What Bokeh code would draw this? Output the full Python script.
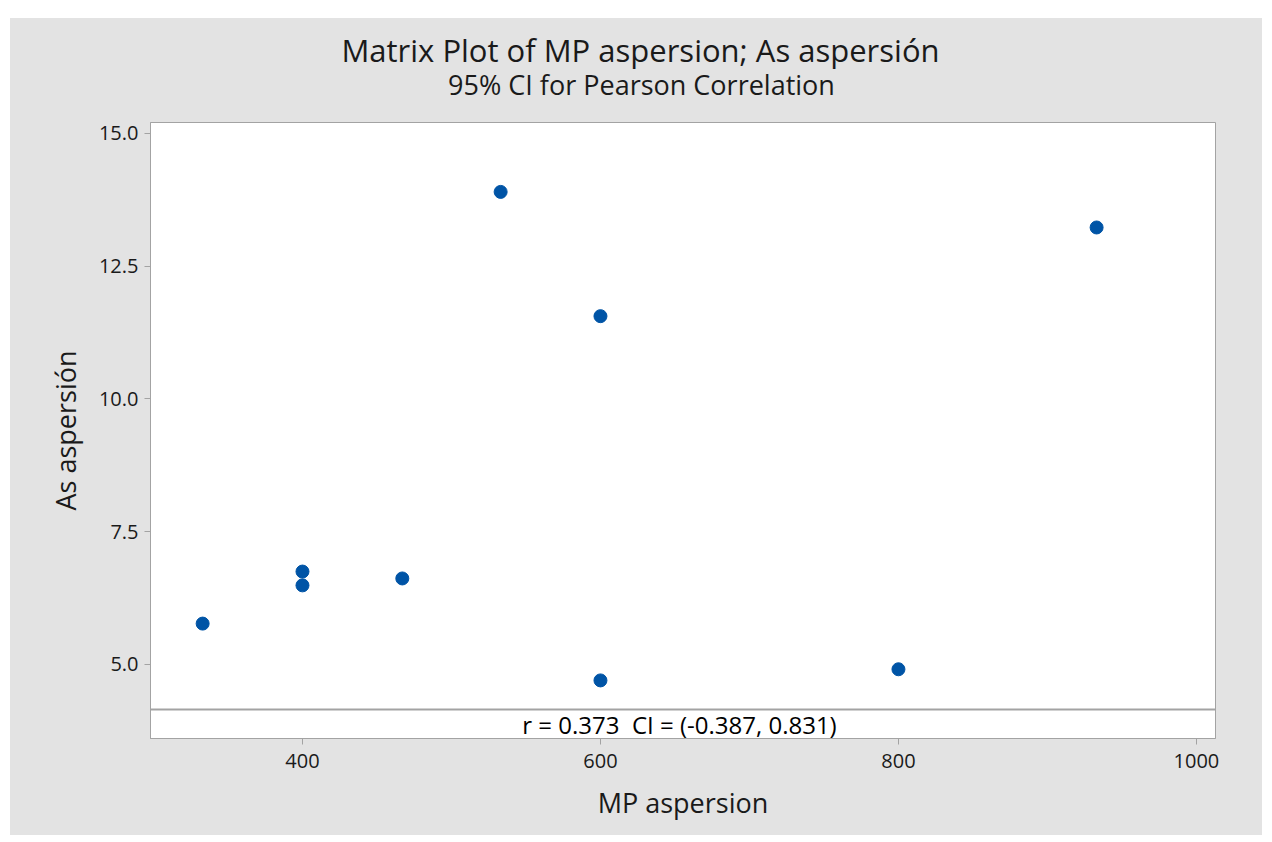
from bokeh.plotting import figure
from bokeh.models import Range1d, FixedTicker, Span, Label, NumeralTickFormatter, Spacer
from bokeh.layouts import column, row
from bokeh.embed import file_html
from bokeh.resources import INLINE

# ---- data ----
mp_aspersion = [333, 400, 400, 467, 533, 600, 600, 800, 933]
as_aspersion = [5.77, 6.75, 6.49, 6.62, 13.90, 11.56, 4.70, 4.91, 13.23]
x_ticks = [400, 600, 800, 1000]
y_ticks = [5.0, 7.5, 10.0, 12.5, 15.0]
title_text = "Matrix Plot of MP aspersion; As aspersión"
subtitle_text = "95% CI for Pearson Correlation"
stat_text = "r = 0.373  CI = (-0.387, 0.831)"
x_label = "MP aspersion"
y_label = "As aspersión"

FONT = "Open Sans"
GRAY = "#e3e3e3"
LINE = "#a3a3a3"
TXT = "#1a1a1a"
W = 1252
ML, MR = 140, 47          # frame margins inside the grey panel
TH = 90                   # height of the title block

# ---- title block (own figure so the texts are not clipped) ----
# its frame is aligned with the plot frame, so x is given in page pixels 150..1215
t = figure(width=W, height=TH, output_backend="svg", toolbar_location=None,
           x_range=Range1d(150, 1215), y_range=Range1d(0, TH),
           min_border_left=ML, min_border_right=MR, min_border_top=0, min_border_bottom=0,
           x_axis_type=None, y_axis_type=None)
t.background_fill_color = GRAY
t.border_fill_color = GRAY
t.outline_line_color = None
t.grid.visible = False
t.add_layout(Label(x=640, y=TH - 31, text=title_text, text_font=FONT,
                   text_font_size="31px", text_color=TXT,
                   text_align="center", text_baseline="middle"))
t.add_layout(Label(x=641, y=TH - 66, text=subtitle_text, text_font=FONT,
                   text_font_size="27px", text_color=TXT,
                   text_align="center", text_baseline="middle"))

# ---- main plot ----
p = figure(width=W, height=817 - TH, output_backend="svg", toolbar_location=None,
           x_range=Range1d(298, 1012.8), y_range=Range1d(3.606, 15.207),
           min_border_left=ML, min_border_right=MR, min_border_top=104 - TH,
           min_border_bottom=97)
p.background_fill_color = "white"
p.border_fill_color = GRAY
p.outline_line_color = LINE
p.outline_line_width = 1
p.grid.visible = False

for ax in (p.xaxis[0], p.yaxis[0]):
    ax.axis_line_color = LINE
    ax.major_tick_line_color = LINE
    ax.minor_tick_line_color = None
    ax.major_tick_out = 6
    ax.major_tick_in = 0
    ax.major_label_text_font = FONT
    ax.major_label_text_font_size = "20px"
    ax.major_label_text_color = TXT
    ax.axis_label_text_font = FONT
    ax.axis_label_text_font_size = "27px"
    ax.axis_label_text_font_style = "normal"
    ax.axis_label_text_color = TXT

p.xaxis.ticker = FixedTicker(ticks=x_ticks)
p.yaxis.ticker = FixedTicker(ticks=y_ticks)
p.yaxis.formatter = NumeralTickFormatter(format="0.0")
p.xaxis.axis_label = x_label
p.yaxis.axis_label = y_label
p.xaxis.major_label_standoff = 9
p.yaxis.major_label_standoff = 6
p.xaxis.axis_label_standoff = 13
p.yaxis.axis_label_standoff = 12

p.scatter(mp_aspersion, as_aspersion, size=13, color="#0054a6", line_color="#0054a6")

p.add_layout(Span(location=4.153, dimension="width", line_color=LINE, line_width=2))

p.add_layout(Label(x=529, y=14, x_units="screen", y_units="screen",
                   text=stat_text.replace("  ", "\u00a0 "),
                   text_font=FONT, text_font_size="24px", text_color="black",
                   text_align="center", text_baseline="middle"))

panel = column(t, p, styles={"background-color": GRAY})
layout = column(Spacer(height=18), row(Spacer(width=10), panel))
open("out.html", "w").write(file_html(layout, INLINE))
